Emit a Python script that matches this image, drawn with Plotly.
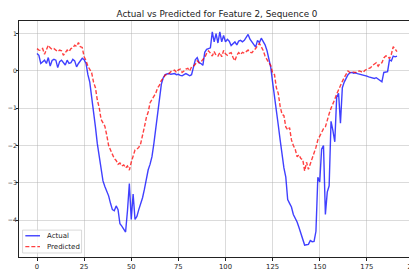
import plotly.graph_objects as go

actual = [
    0.47, 0.42, 0.2, 0.24, 0.29, 0.2, 0.36, 0.13, 0.28, 0.31,
    0.29, 0.09, 0.25, 0.29, 0.22, 0.16, 0.29, 0.2, 0.22, 0.31,
    0.27, 0.11, 0.2, 0.26, 0.34, 0.3, 0.2, -0.1, -0.3, -0.7,
    -1.05, -1.5, -1.95, -2.3, -2.64, -2.95, -3.1, -3.22, -3.35, -3.55,
    -3.72, -3.75, -3.62, -3.72, -4.1, -4.16, -4.25, -4.32, -3.75, -3.02,
    -3.98, -3.3, -3.98, -3.9, -3.72, -3.57, -3.4, -3.17, -2.85, -2.65,
    -2.5, -2.3, -1.95, -1.55, -1.15, -0.7, -0.35, -0.18, -0.1, -0.08,
    -0.07, -0.09, -0.08, -0.07, -0.1, -0.09, -0.12, -0.13, -0.1, -0.07,
    -0.1, -0.13, -0.1, 0.09, 0.3, 0.36, 0.22, 0.2, 0.15, 0.5,
    0.58, 0.6, 0.62, 1.05, 0.78, 1.0, 0.75, 1.05, 0.78, 0.95,
    0.78, 0.85, 0.8, 0.68, 0.72, 0.78, 0.7, 0.8, 0.82, 0.78,
    0.82, 0.9, 0.98, 0.85, 0.78, 0.7, 0.64, 0.82, 0.76, 0.88,
    0.8, 0.7, 0.55, 0.35, 0.1, -0.3, -0.65, -1.0, -1.45, -1.85,
    -2.3, -2.6, -2.85, -3.45, -3.55, -3.65, -3.85, -3.95, -4.05, -4.2,
    -4.35, -4.55, -4.67, -4.66, -4.65, -4.55, -4.58, -4.57, -4.3, -2.85,
    -2.98, -2.1, -2.0, -3.85, -3.25, -3.08, -1.35, -1.6, -1.9, -0.7,
    -0.6, -1.4, -0.45, -0.3, -0.18, -0.1, -0.05, -0.04, -0.06, -0.05,
    -0.07, -0.08, -0.1, -0.12, -0.12, -0.14, -0.16, -0.17, -0.17, -0.2,
    -0.18, -0.22, -0.25, -0.29, -0.04, -0.03, -0.02, 0.3, 0.27, 0.4,
    0.38, 0.4,
]

predicted = [
    0.6, 0.56, 0.55, 0.6, 0.45, 0.58, 0.69, 0.62, 0.58, 0.6,
    0.56, 0.52, 0.56, 0.54, 0.42, 0.5, 0.56, 0.52, 0.6, 0.62,
    0.69, 0.66, 0.76, 0.65, 0.63, 0.38, 0.28, 0.13, 0.03, -0.05,
    -0.3, -0.45, -0.78, -0.98, -1.3, -1.4, -1.48, -1.72, -2.0, -2.12,
    -2.22, -2.35, -2.4, -2.5, -2.47, -2.55, -2.52, -2.6, -2.55, -2.66,
    -2.45, -2.25, -2.12, -2.1, -2.05, -1.95, -1.75, -1.5, -1.25, -1.1,
    -0.85, -0.76, -0.65, -0.6, -0.45, -0.38, -0.25, -0.2, -0.11, -0.09,
    -0.07, -0.02, 0.0, 0.02, -0.04, 0.03, 0.05, -0.04, 0.0, 0.05,
    0.07, 0.0, 0.11, 0.13, 0.18, 0.27, 0.22, 0.24, 0.31, 0.36,
    0.47, 0.54, 0.48, 0.4, 0.52, 0.42, 0.4, 0.49, 0.38, 0.55,
    0.46, 0.42, 0.47, 0.49, 0.36, 0.27, 0.42, 0.49, 0.44, 0.5,
    0.48, 0.52, 0.56, 0.5, 0.49, 0.55, 0.6, 0.68, 0.74, 0.65,
    0.55, 0.4, 0.3, 0.22, 0.15, -0.05, -0.1, -0.45, -0.6, -0.95,
    -1.16, -1.2, -1.5, -1.58, -1.52, -1.85, -2.0, -2.1, -2.3, -2.25,
    -2.35, -2.38, -2.68, -2.45, -2.64, -2.5, -2.35, -2.2, -2.05, -1.85,
    -1.75, -1.65, -1.55, -1.5, -1.3, -1.15, -1.0, -0.9, -0.76, -0.62,
    -0.5, -0.35, -0.28, -0.18, -0.1, 0.0, -0.04, -0.02, -0.03, -0.04,
    -0.02, 0.0, -0.02, -0.04, 0.02, 0.05, 0.07, 0.09, 0.15, 0.18,
    0.22, 0.13, 0.2, 0.22, 0.35, 0.4, 0.4, 0.33, 0.45, 0.65,
    0.58, 0.52,
]

steps = list(range(len(actual)))
x_ticks = [0, 25, 50, 75, 100, 125, 150, 175, 200]
y_ticks = [-4, -3, -2, -1, 0, 1]
title = "Actual vs Predicted for Feature 2, Sequence 0"
series_names = ["Actual", "Predicted"]

BLUE = "rgba(0,0,255,0.75)"
RED = "rgba(255,0,0,0.75)"
DASH = "4px,2px"
FONT = "DejaVu Sans"

fig = go.Figure()
fig.add_trace(go.Scatter(x=steps, y=actual, mode="lines", name=series_names[0],
                         line=dict(color=BLUE, width=1.4)))
fig.add_trace(go.Scatter(x=steps, y=predicted, mode="lines", name=series_names[1],
                         line=dict(color=RED, width=1.4, dash=DASH)))

axis_common = dict(showline=True, linecolor="#222", linewidth=0.8, mirror=True,
                   ticks="outside", tickcolor="#222", tickwidth=0.8,
                   showgrid=True, gridcolor="rgba(176,176,176,0.45)", gridwidth=0.8,
                   zeroline=False, automargin=False)

# Custom compact legend (matplotlib-like), in paper coordinates of the plot area
shapes = [
    dict(type="rect", xref="paper", yref="paper", x0=0.009, x1=0.158, y0=0.017, y1=0.114,
         line=dict(color="#d0d0d0", width=0.8), fillcolor="rgba(255,255,255,0.8)", layer="above"),
    dict(type="line", xref="paper", yref="paper", x0=0.016, x1=0.053, y0=0.090, y1=0.090,
         line=dict(color=BLUE, width=1.4), layer="above"),
    dict(type="line", xref="paper", yref="paper", x0=0.016, x1=0.053, y0=0.044, y1=0.044,
         line=dict(color=RED, width=1.4, dash=DASH), layer="above"),
]
annotations = [
    dict(text=series_names[0], xref="paper", yref="paper", x=0.066, y=0.090, xanchor="left",
         yanchor="middle", showarrow=False, font=dict(family=FONT, size=7, color="#222")),
    dict(text=series_names[1], xref="paper", yref="paper", x=0.066, y=0.044, xanchor="left",
         yanchor="middle", showarrow=False, font=dict(family=FONT, size=7, color="#222")),
]

fig.update_layout(
    width=417, height=273,
    margin=dict(l=11, r=10, t=13, b=24, autoexpand=False),
    paper_bgcolor="white", plot_bgcolor="white",
    title=dict(text=title, x=(198 + 11) / 417, xref="container", xanchor="center",
               y=1 - 6 / 273, yanchor="middle",
               font=dict(family=FONT, size=8.8, color="#222")),
    xaxis=dict(range=[-9.55, 200.55], tickvals=x_ticks, ticklen=3,
               tickfont=dict(family=FONT, size=6.8, color="#222"), **axis_common),
    yaxis=dict(range=[-4.99, 1.34], tickvals=y_ticks, ticklen=2, ticklabelstandoff=-2,
               tickfont=dict(family=FONT, size=6.2, color="#222"), **axis_common),
    showlegend=False,
    shapes=shapes,
    annotations=annotations,
)

fig.write_html("out.html")
